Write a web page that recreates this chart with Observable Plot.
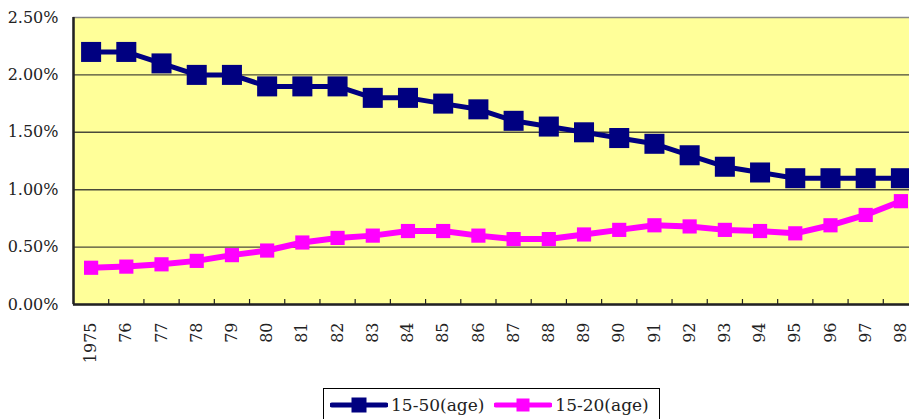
<!DOCTYPE html>
<html><head><meta charset="utf-8">
<script src="https://cdn.jsdelivr.net/npm/d3@7"></script>
<script src="https://cdn.jsdelivr.net/npm/@observablehq/plot@0.6"></script>
<style>
html,body{margin:0;padding:0;overflow:hidden;background:#fff;}
body{width:909px;height:419px;position:relative;}
#chart{width:918px;}
#chart svg{max-width:none !important;}
#legend{position:absolute;left:323px;top:388px;width:337px;height:34px;border:1px solid #000;box-sizing:border-box;font-family:"DejaVu Serif",serif;font-size:17px;color:#222;display:flex;align-items:center;background:#fff;}
#legend .item{display:flex;align-items:center;margin-left:6px;}
#legend .item + .item{margin-left:10px;}
#legend svg{margin-right:3px;}
</style></head><body>
<div id="chart"></div><div id="legend"></div>
<script>
const years = [1975,1976,1977,1978,1979,1980,1981,1982,1983,1984,1985,1986,1987,1988,1989,1990,1991,1992,1993,1994,1995,1996,1997,1998];
const tickLabels = ["1975","76","77","78","79","80","81","82","83","84","85","86","87","88","89","90","91","92","93","94","95","96","97","98"];
const age15to50 = [2.20,2.20,2.10,2.00,2.00,1.90,1.90,1.90,1.80,1.80,1.75,1.70,1.60,1.55,1.50,1.45,1.40,1.30,1.20,1.15,1.10,1.10,1.10,1.10];
const age15to20 = [0.32,0.33,0.35,0.38,0.43,0.47,0.54,0.58,0.60,0.64,0.64,0.60,0.57,0.57,0.61,0.65,0.69,0.68,0.65,0.64,0.62,0.69,0.78,0.90];
const seriesNames = ["15-50(age)","15-20(age)"];
const seriesColors = ["#000080","#FF00FF"];
const yTicks = [0,0.5,1,1.5,2,2.5];

const rowsA = years.map((y,i)=>({year:y, v:age15to50[i]}));
const rowsB = years.map((y,i)=>({year:y, v:age15to20[i]}));
const bounds = years.slice(1).map(y=>y-0.5);

const chart = Plot.plot({
  width: 918, height: 386,
  marginLeft: 73, marginRight: 0, marginTop: 17, marginBottom: 82,
  x: {domain:[years[0]-0.5, years[years.length-1]+0.5]},
  y: {domain:[0,2.5]},
  style: {fontFamily:"'DejaVu Serif', serif", fontSize:"16px", color:"#222", background:"transparent", maxWidth:"none"},
  marks: [
    Plot.frame({fill:"#FFFF99", stroke:"#888", strokeWidth:1.5}),
    Plot.ruleY(yTicks.slice(1,-1), {stroke:"#4a4a3a", strokeWidth:1.4}),
    Plot.ruleX(bounds, {stroke:"#222", strokeWidth:1.2, insetTop:282}),
    Plot.ruleY([0], {stroke:"#222", strokeWidth:2.5}),
    Plot.ruleX([years[0]-0.5], {stroke:"#222", strokeWidth:2.5}),
    Plot.line(rowsB, {x:"year", y:"v", stroke:seriesColors[1], strokeWidth:6}),
    Plot.dot(rowsB, {x:"year", y:"v", symbol:"square", r:8, fill:seriesColors[1], stroke:"none"}),
    Plot.line(rowsA, {x:"year", y:"v", stroke:seriesColors[0], strokeWidth:5}),
    Plot.dot(rowsA, {x:"year", y:"v", symbol:"square", r:11.3, fill:seriesColors[0], stroke:"none"}),
    Plot.axisY(yTicks, {tickFormat:d=>d.toFixed(2)+"%", tickSize:0, tickPadding:15, label:null, fontSize:16}),
    Plot.axisX(years, {tickFormat:d=>tickLabels[years.indexOf(d)], tickRotate:-90, tickSize:0, tickPadding:18, label:null, fontSize:16})
  ]
});
document.getElementById("chart").appendChild(chart);

const legend = document.getElementById("legend");
seriesNames.forEach((name,i)=>{
  const item = document.createElement("span");
  item.className="item";
  const sz = i===0 ? 15 : 13;
  item.innerHTML = `<svg width="58" height="20"><line x1="2" y1="10" x2="56" y2="10" stroke="${seriesColors[i]}" stroke-width="5" stroke-linecap="round"/><rect x="${29-sz/2}" y="${10-sz/2}" width="${sz}" height="${sz}" fill="${seriesColors[i]}"/></svg><span>${name}</span>`;
  legend.appendChild(item);
});
</script>
</body></html>
